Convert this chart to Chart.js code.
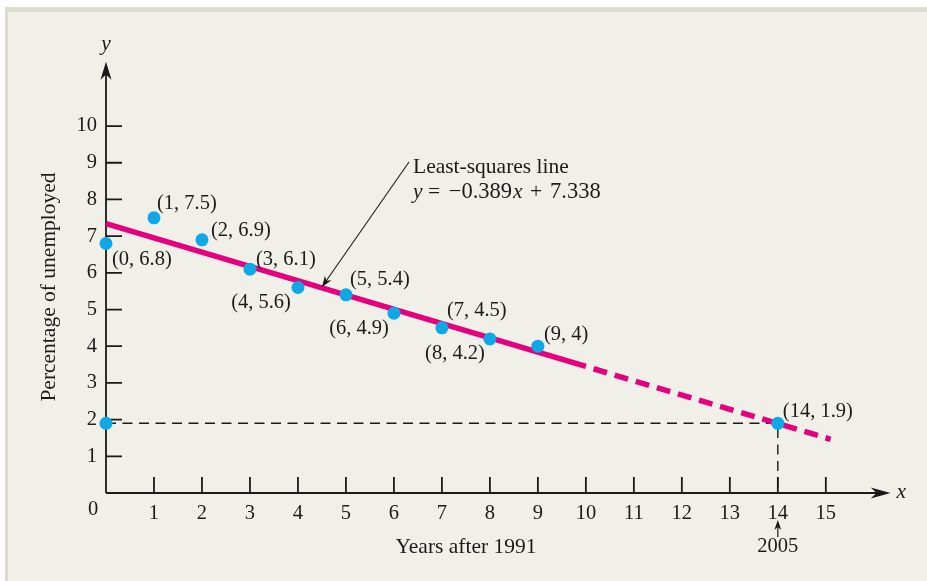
<!DOCTYPE html>
<html>
<head>
<meta charset="utf-8">
<script src="https://cdn.jsdelivr.net/npm/chart.js@4/dist/chart.umd.min.js"></script>
<style>
  html, body { margin: 0; padding: 0; background: #ffffff; }
  #wrap { width: 927px; height: 581px; }
</style>
</head>
<body>
<div id="wrap"><canvas id="c" width="927" height="581"></canvas></div>
<script>
// ---- data ----
const yearsAfter1991 = [0, 1, 2, 3, 4, 5, 6, 7, 8, 9];
const unemployedPct = [6.8, 7.5, 6.9, 6.1, 5.6, 5.4, 4.9, 4.5, 4.2, 4];
const predictedX = [0, 14];
const predictedY = [1.9, 1.9];
const fitSolidX = [0, 10];
const fitSolidY = [7.338, 3.448];
const fitDashedX = [10, 15.1];
const fitDashedY = [3.448, 1.464];
const guideX = [0, 14, 14];
const guideY = [1.9, 1.9, 0];
const xTickValues = [1, 2, 3, 4, 5, 6, 7, 8, 9, 10, 11, 12, 13, 14, 15];
const yTickValues = [1, 2, 3, 4, 5, 6, 7, 8, 9, 10];
const xTitle = 'Years after 1991';
const yTitle = 'Percentage of unemployed';
const fitTitle = 'Least-squares line';
const fitSlope = '\u22120.389';
const fitIntercept = '7.338';
const predictedYearLabel = '2005';

// label placement (style, not data)
const labelOffsets = [
  [6, 16, 'left'], [3, -14, 'left'], [9, -9, 'left'], [6, -10, 'left'],
  [-7, 15, 'right'], [4, -15, 'left'], [-5, 15, 'right'], [5, -17, 'left'],
  [-5, 15, 'right'], [6, -12, 'left']
];

const FONT = '"Liberation Serif", "Times New Roman", serif';
const INK = '#1a1a1a';
const BLUE = '#0fa7e6';
const MAGENTA = '#e5007d';
const LABEL_PX = 20.5;
const TITLE_PX = 21.5;

const zip = (xs, ys) => xs.map((x, i) => ({x, y: ys[i]}));

function arrowHead(ctx, tx, ty, angle, len, half) {
  ctx.save();
  ctx.translate(tx, ty);
  ctx.rotate(angle);
  ctx.beginPath();
  ctx.moveTo(0, 0);
  ctx.lineTo(-len, -half);
  ctx.lineTo(-len * 0.7, 0);
  ctx.lineTo(-len, half);
  ctx.closePath();
  ctx.fill();
  ctx.restore();
}

const decor = {
  id: 'decor',
  beforeDraw(chart) {
    const ctx = chart.ctx;
    ctx.save();
    ctx.fillStyle = '#ffffff';
    ctx.fillRect(0, 0, chart.width, chart.height);
    ctx.fillStyle = '#dcdbcf';
    ctx.fillRect(5, 7, chart.width - 5, chart.height - 7);
    ctx.fillStyle = '#f1f0e8';
    ctx.fillRect(8, 12, chart.width - 8, chart.height - 12);
    ctx.restore();
  },
  beforeDatasetsDraw(chart) {
    const ctx = chart.ctx;
    const xs = chart.scales.x, ys = chart.scales.y;
    const x0 = xs.getPixelForValue(0), y0 = ys.getPixelForValue(0);
    ctx.save();
    ctx.strokeStyle = INK;
    ctx.fillStyle = INK;
    ctx.lineWidth = 1.8;
    // axes
    const yTop = ys.getPixelForValue(11.75);
    const xEnd = xs.getPixelForValue(16.35);
    ctx.beginPath();
    ctx.moveTo(x0, y0); ctx.lineTo(x0, yTop + 6);
    ctx.moveTo(x0, y0); ctx.lineTo(xEnd - 6, y0);
    ctx.stroke();
    arrowHead(ctx, x0, yTop, -Math.PI / 2, 18, 5.5);
    arrowHead(ctx, xEnd, y0, 0, 20, 5.5);
    // ticks (inside)
    ctx.beginPath();
    xTickValues.forEach(v => {
      const p = xs.getPixelForValue(v);
      ctx.moveTo(p, y0); ctx.lineTo(p, y0 - 16);
    });
    yTickValues.forEach(v => {
      const p = ys.getPixelForValue(v);
      ctx.moveTo(x0, p); ctx.lineTo(x0 + 16, p);
    });
    ctx.stroke();
    // axis letters and origin label
    ctx.font = 'italic ' + TITLE_PX + 'px ' + FONT;
    ctx.textBaseline = 'middle';
    ctx.textAlign = 'center';
    ctx.fillText('y', x0, yTop - 17);
    ctx.textAlign = 'left';
    ctx.fillText('x', xEnd + 6, y0 - 1);
    ctx.font = LABEL_PX + 'px ' + FONT;
    ctx.textAlign = 'center';
    ctx.fillText('0', x0 - 13, y0 + 17);
    ctx.restore();
  },
  afterDatasetsDraw(chart) {
    const ctx = chart.ctx;
    const xs = chart.scales.x, ys = chart.scales.y;
    ctx.save();
    ctx.fillStyle = INK;
    ctx.strokeStyle = INK;
    ctx.font = LABEL_PX + 'px ' + FONT;
    ctx.textBaseline = 'middle';
    // point labels
    const pts = zip(yearsAfter1991, unemployedPct);
    pts.forEach((p, i) => {
      const [dx, dy, al] = labelOffsets[i];
      ctx.textAlign = al;
      ctx.fillText('(' + p.x + ', ' + p.y + ')', xs.getPixelForValue(p.x) + dx, ys.getPixelForValue(p.y) + dy);
    });
    ctx.textAlign = 'left';
    ctx.fillText('(' + predictedX[1] + ', ' + predictedY[1] + ')',
      xs.getPixelForValue(predictedX[1]) + 5, ys.getPixelForValue(predictedY[1]) - 12);
    // least squares annotation
    const tipX = xs.getPixelForValue(4.5), tipY = ys.getPixelForValue(7.338 - 0.389 * 4.5) - 1;
    const tailX = 409, tailY = 162;
    ctx.lineWidth = 1.1;
    ctx.beginPath();
    ctx.moveTo(tailX, tailY);
    ctx.lineTo(tipX, tipY);
    ctx.stroke();
    arrowHead(ctx, tipX, tipY, Math.atan2(tipY - tailY, tipX - tailX), 11, 4);
    ctx.textAlign = 'left';
    const it = 'italic ' + TITLE_PX + 'px ' + FONT, rm = TITLE_PX + 'px ' + FONT;
    const eq = '22.5px ' + FONT;
    ctx.font = rm;
    ctx.fillText(fitTitle, 413, 167);
    const eqY = 192;
    ctx.font = it; ctx.fillText('y', 413, eqY);
    ctx.font = rm; ctx.fillText('=', 428, eqY);
    ctx.font = eq; ctx.textAlign = 'right';
    ctx.fillText(fitSlope, 512, eqY);
    ctx.textAlign = 'left';
    ctx.font = it; ctx.fillText('x', 513, eqY);
    ctx.font = rm; ctx.fillText('+', 530, eqY);
    ctx.font = eq;
    ctx.fillText(fitIntercept, 550, eqY);
    // 2005 marker
    ctx.font = LABEL_PX + 'px ' + FONT;
    const px = xs.getPixelForValue(14);
    ctx.lineWidth = 1.2;
    ctx.beginPath();
    ctx.moveTo(px, 537); ctx.lineTo(px, 526);
    ctx.stroke();
    arrowHead(ctx, px, 520, -Math.PI / 2, 10, 3.5);
    ctx.textAlign = 'center';
    ctx.fillText(predictedYearLabel, px, 547);
    // axis titles
    ctx.font = rm;
    ctx.fillText(xTitle, 466, 547);
    ctx.translate(49, 287);
    ctx.rotate(-Math.PI / 2);
    ctx.fillText(yTitle, 0, 0);
    ctx.restore();
  }
};

new Chart(document.getElementById('c'), {
  type: 'scatter',
  data: {
    datasets: [
      { label: 'observed', data: zip(yearsAfter1991, unemployedPct), pointRadius: 6.5, pointHoverRadius: 6.5,
        backgroundColor: BLUE, borderWidth: 0, showLine: false, clip: false },
      { label: 'predicted', data: zip(predictedX, predictedY), pointRadius: 6.5, pointHoverRadius: 6.5,
        backgroundColor: BLUE, borderWidth: 0, showLine: false, clip: false },
      { label: 'fit', data: zip(fitSolidX, fitSolidY), showLine: true, pointRadius: 0,
        borderColor: MAGENTA, borderWidth: 5.5, borderCapStyle: 'butt', clip: false },
      { label: 'fit extension', data: zip(fitDashedX, fitDashedY), showLine: true, pointRadius: 0,
        borderColor: MAGENTA, borderWidth: 5.5, borderDash: [14, 8], borderDashOffset: 14,
        borderCapStyle: 'butt', clip: false },
      { label: 'guide', data: zip(guideX, guideY), showLine: true, pointRadius: 0,
        borderColor: INK, borderWidth: 1.4, borderDash: [10, 6.5], clip: false }
    ]
  },
  options: {
    responsive: false,
    animation: false,
    devicePixelRatio: 1,
    events: [],
    layout: { padding: { left: 0, right: 34, top: 60, bottom: 0 } },
    plugins: { legend: { display: false }, tooltip: { enabled: false }, title: { display: false } },
    scales: {
      x: {
        type: 'linear', min: 0, max: 16.4,
        border: { display: false },
        grid: { display: false, drawTicks: false },
        afterFit: s => { s.height = 88; },
        ticks: {
          stepSize: 1, autoSkip: false, maxRotation: 0, padding: 8,
          color: INK, font: { family: FONT, size: LABEL_PX },
          callback: v => (xTickValues.includes(v) ? String(v) : '')
        }
      },
      y: {
        type: 'linear', min: 0, max: 11.8,
        border: { display: false },
        grid: { display: false, drawTicks: false },
        afterFit: s => { s.width = 106; },
        ticks: {
          stepSize: 1, autoSkip: false, padding: 9,
          color: INK, font: { family: FONT, size: LABEL_PX },
          callback: v => (yTickValues.includes(v) ? String(v) : '')
        }
      }
    }
  },
  plugins: [decor]
});
</script>
</body>
</html>
